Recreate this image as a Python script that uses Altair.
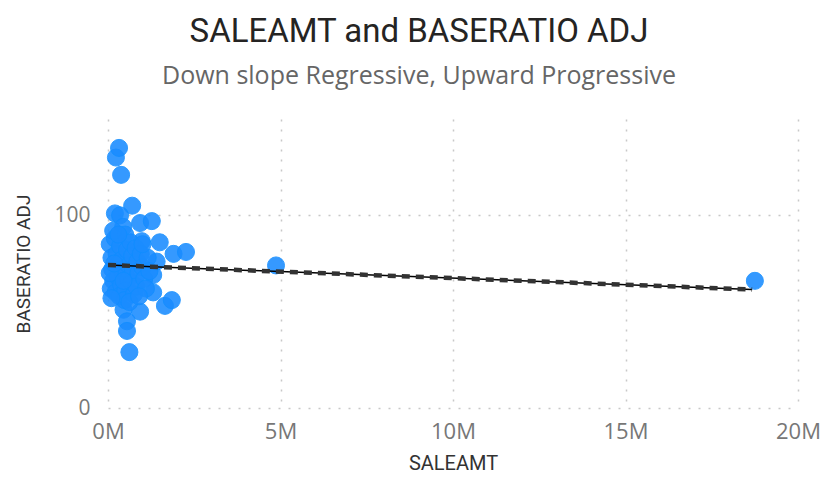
import altair as alt
import pandas as pd

# SALEAMT in millions, BASERATIO ADJ
sale_m = [0.23, 0.32, 0.38, 0.70, 0.20, 0.35, 0.44, 0.93, 1.27, 1.50, 1.90, 2.26,
          4.87, 18.75, 1.65, 1.85, 0.93, 0.45, 0.55, 0.55, 0.62, 0.98, 1.41, 1.31,
          1.31, 0.05, 0.10, 0.12, 0.15, 0.08, 0.20, 0.25, 0.30, 0.28, 0.22, 0.35,
          0.40, 0.42, 0.38, 0.33, 0.50, 0.55, 0.60, 0.58, 0.50, 0.48, 0.65, 0.70,
          0.72, 0.68, 0.75, 0.80, 0.85, 0.88, 0.82, 0.95, 1.00, 1.05, 1.10, 1.15,
          1.20, 0.15, 0.05, 0.10, 0.30, 0.62, 0.90, 1.00, 0.18, 0.45]
ratio = [130, 135, 121, 105, 101, 100, 94, 96, 97, 86, 80, 81,
         74, 66, 53, 56, 50, 51, 45, 40, 29, 86.6, 76, 69,
         60, 85, 78, 72, 66, 62, 88, 80, 75, 68, 60, 84,
         77, 71, 64, 58, 90, 82, 74, 67, 61, 56, 86, 79,
         72, 65, 59, 83, 76, 70, 63, 80, 73, 67, 62, 78,
         71, 92, 70, 57, 90, 55, 58, 85, 75, 66]

trend_x_m = [0.0, 18.67]
trend_y = [74.2, 61.5]

pts = pd.DataFrame({"SALEAMT": [v * 1e6 for v in sale_m], "BASERATIO ADJ": ratio})
trend = pd.DataFrame({"SALEAMT": [v * 1e6 for v in trend_x_m], "BASERATIO ADJ": trend_y})

xs = alt.Scale(domain=[0, 20e6], nice=False)
ys = alt.Scale(domain=[0, 150], nice=False)

grid_color = "#c8c8c8"

x_axis = alt.Axis(
    values=[0, 5e6, 10e6, 15e6, 20e6],
    labelExpr="format(datum.value / 1000000, 'd') + 'M'",
    labelFontSize=22, labelColor="#777777", labelFont="Open Sans",
    labelPadding=13, labelFlush=False, ticks=False, domain=False,
    grid=True, gridColor=grid_color, gridDash=[2, 8], gridWidth=1.5,
    title="SALEAMT", titleFontSize=20, titleColor="#333333", titleFont="Roboto",
    titleFontWeight="normal", titlePadding=11,
)
y_axis = alt.Axis(
    values=[0, 100],
    labelFontSize=21, labelColor="#777777", labelFont="Open Sans",
    labelPadding=18, ticks=False, domain=False,
    grid=True, gridColor=grid_color, gridDash=[2, 8], gridWidth=1.5,
    title="BASERATIO ADJ", titleFontSize=19, titleColor="#333333", titleFont="Roboto",
    titleFontWeight="normal", titlePadding=20,
)

points = alt.Chart(pts).mark_circle(
    size=290, color="#1a8cff", opacity=0.88, stroke="#118DFF", strokeWidth=1
).encode(
    x=alt.X("SALEAMT:Q", scale=xs, axis=x_axis),
    y=alt.Y("BASERATIO ADJ:Q", scale=ys, axis=y_axis),
)

line_solid = alt.Chart(trend).mark_line(color="#000000", strokeWidth=1.5).encode(
    x=alt.X("SALEAMT:Q", scale=xs), y=alt.Y("BASERATIO ADJ:Q", scale=ys)
)
line_dash = alt.Chart(trend).mark_line(color="#333333", strokeWidth=4.5, strokeDash=[8, 6]).encode(
    x=alt.X("SALEAMT:Q", scale=xs), y=alt.Y("BASERATIO ADJ:Q", scale=ys)
)

chart = alt.layer(points, line_solid, line_dash).properties(
    width=690, height=289,
    autosize=alt.AutoSizeParams(type="none"),
    padding={"left": 100, "top": 111, "right": 33, "bottom": 72},
    title=alt.TitleParams(
        text="SALEAMT and BASERATIO ADJ",
        subtitle="Down slope Regressive, Upward Progressive",
        anchor="middle", dx=-34, offset=30,
        font="Roboto", fontSize=33, fontWeight="normal", color="#252423",
        subtitleFont="Open Sans", subtitleFontSize=25, subtitleColor="#666666",
        subtitlePadding=15,
    ),
).configure(background="white").configure_view(strokeWidth=0, stroke=None)

chart.save("out.html", embed_options={"renderer": "svg", "actions": False})
